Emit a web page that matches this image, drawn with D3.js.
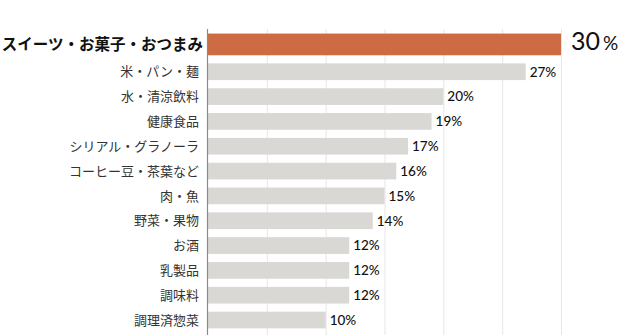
<!DOCTYPE html>
<html><head><meta charset="utf-8">
<script src="https://cdn.jsdelivr.net/npm/d3@7"></script>
<style>
html,body{margin:0;padding:0;background:#fff;}
svg{display:block;}
</style></head>
<body>
<svg id="chart" width="625" height="335"></svg>
<script>
const categories = ["スイーツ・お菓子・おつまみ","米・パン・麺","水・清涼飲料","健康食品","シリアル・グラノーラ","コーヒー豆・茶葉など","肉・魚","野菜・果物","お酒","乳製品","調味料","調理済惣菜"];
const values = [30,27,20,19,17,16,15,14,12,12,12,10];
const gridTicks = [5,10,15,20,25,30];
const highlightIndex = 0;

const W = 625, H = 335;
const svg = d3.select("#chart");
const x = d3.scaleLinear().domain([0,30]).range([208,561]);
const y = d3.scaleBand().domain(categories).range([34.5, 34.5 + 24.83*12]).paddingInner(0.33).paddingOuter(0.165);
const barH = 16.7;
const bigH = 21.7;

// gridlines
svg.append("g").selectAll("line").data(gridTicks).join("line")
  .attr("x1", d=>x(d)+0.5).attr("x2", d=>x(d)+0.5)
  .attr("y1", 29).attr("y2", H)
  .attr("stroke", "#e6e6e6").attr("stroke-width", 1);

const rowC = d => y(d) + y.bandwidth()/2;

// bars
svg.append("g").selectAll("rect").data(categories).join("rect")
  .attr("x", x(0))
  .attr("y", (d,i)=> i===highlightIndex ? rowC(d)+barH/2-bigH : rowC(d)-barH/2)
  .attr("height", (d,i)=> i===highlightIndex ? bigH : barH)
  .attr("width", (d,i)=> x(values[i]) - x(0))
  .attr("fill", (d,i)=> i===highlightIndex ? "#cd6c42" : "#d9d8d4");

// axis line
svg.append("line").attr("x1", 207.5).attr("x2", 207.5).attr("y1", 29).attr("y2", H)
  .attr("stroke", "#8a8a8a").attr("stroke-width", 1.2);

// category labels
svg.append("g").selectAll("text").data(categories).join("text")
  .attr("x", (d,i)=> i===highlightIndex ? 203 : 199)
  .attr("y", (d,i)=> i===highlightIndex ? rowC(d)+barH/2-bigH/2 : rowC(d))
  .attr("dy", "0.36em")
  .attr("text-anchor", "end")
  .attr("font-family", "'Noto Sans CJK JP', sans-serif")
  .attr("font-size", (d,i)=> i===highlightIndex ? 15.5 : 13)
  .attr("font-weight", (d,i)=> i===highlightIndex ? 700 : 400)
  .attr("fill", (d,i)=> i===highlightIndex ? "#111" : "#333")
  .text(d=>d);

// value labels
const vl = svg.append("g").selectAll("text").data(categories).join("text")
  .attr("x", (d,i)=> x(values[i]) + (i===highlightIndex ? 10 : 4))
  .attr("y", (d,i)=> i===highlightIndex ? rowC(d)+barH/2-bigH/2 : rowC(d))
  .attr("dy", "0.36em")
  .attr("font-family", "Lato, 'Noto Sans', sans-serif")
  .attr("fill", "#111");
vl.each(function(d,i){
  const t = d3.select(this);
  if(i===highlightIndex){
    t.append("tspan").attr("font-size", 25).text(values[i]);
    t.append("tspan").attr("font-size", 19).attr("dx", 3).text("%");
  } else {
    t.attr("font-size", 13.5).attr("font-weight", 500).text(values[i] + "%");
  }
});
</script>
</body></html>
